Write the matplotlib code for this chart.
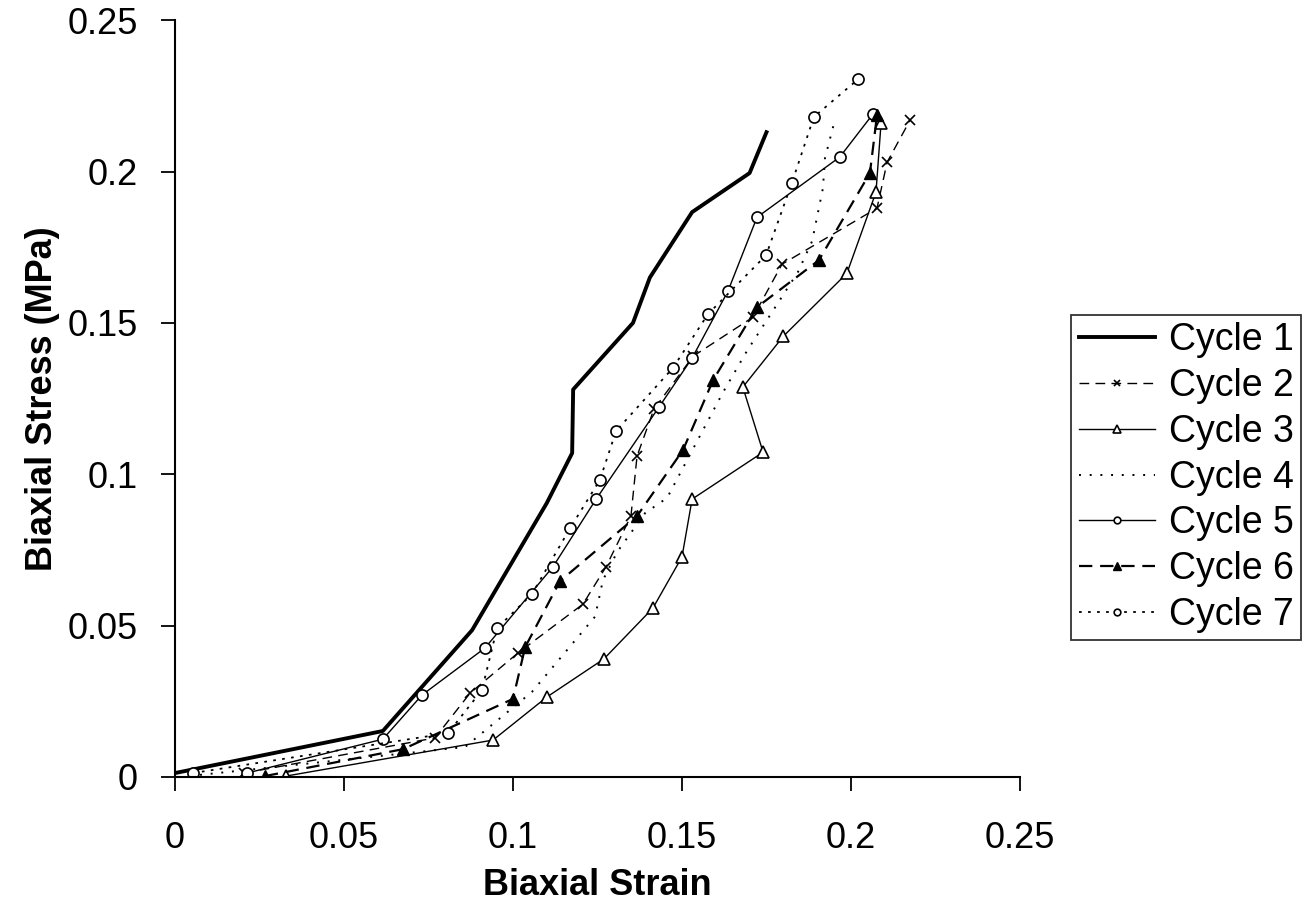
import matplotlib
matplotlib.use("Agg")
import matplotlib.pyplot as plt

plt.rcParams["font.family"] = ["Liberation Sans", "DejaVu Sans"]

# ---- data (strain, stress MPa) ----
c1_x = [0.0, 0.0615, 0.0879, 0.110, 0.1175, 0.1178, 0.1355, 0.1405, 0.153, 0.170, 0.175]
c1_y = [0.0013, 0.0152, 0.0485, 0.0905, 0.107, 0.128, 0.150, 0.165, 0.1866, 0.1995, 0.213]

c2_x = [0.0204, 0.0769, 0.0873, 0.1015, 0.1207, 0.1275, 0.1349, 0.1367, 0.1417,
        0.1533, 0.171, 0.1796, 0.2077, 0.2107, 0.2175]
c2_y = [0.0013, 0.0129, 0.0277, 0.041, 0.0571, 0.0694, 0.0862, 0.106, 0.1215,
        0.139, 0.1519, 0.1694, 0.1879, 0.2031, 0.217]

c3_x = [0.0328, 0.0941, 0.110, 0.1269, 0.1414, 0.150, 0.153, 0.174, 0.168,
        0.180, 0.1988, 0.2074, 0.2089]
c3_y = [0.0003, 0.0122, 0.0264, 0.039, 0.0558, 0.0727, 0.0918, 0.1073, 0.1288,
        0.1456, 0.1664, 0.1932, 0.216]

c4_x = [0.0074, 0.0858, 0.1056, 0.1243, 0.1266, 0.1308, 0.1391, 0.1456, 0.162,
        0.1692, 0.1843, 0.1885, 0.1917, 0.1923, 0.1953]
c4_y = [0.0007, 0.0099, 0.0281, 0.053, 0.065, 0.0743, 0.0872, 0.0922, 0.1268,
        0.1407, 0.1668, 0.177, 0.1945, 0.2044, 0.2173]

c5_x = [0.0213, 0.0615, 0.0731, 0.0917, 0.1118, 0.1246, 0.1432, 0.153, 0.1636,
        0.1722, 0.1967, 0.2065]
c5_y = [0.0013, 0.0125, 0.0271, 0.0426, 0.0694, 0.0918, 0.1222, 0.1384, 0.1605,
        0.1849, 0.2048, 0.219]

c6_x = [0.0266, 0.0675, 0.100, 0.1036, 0.1139, 0.1367, 0.1503, 0.1592, 0.1722,
        0.1905, 0.2056, 0.2077]
c6_y = [0.0003, 0.0092, 0.0258, 0.0429, 0.0647, 0.0862, 0.108, 0.1311, 0.1552,
        0.1707, 0.1995, 0.2186]

c7_x = [0.0053, 0.0808, 0.0908, 0.0953, 0.1056, 0.1169, 0.1257, 0.1305, 0.1473,
        0.1577, 0.1749, 0.1825, 0.189, 0.2021]
c7_y = [0.0013, 0.0145, 0.0287, 0.0492, 0.0604, 0.0822, 0.0981, 0.1143, 0.1351,
        0.1529, 0.1724, 0.1962, 0.218, 0.2305]

ticks = [0, 0.05, 0.1, 0.15, 0.2, 0.25]
tick_labels = ["0", "0.05", "0.1", "0.15", "0.2", "0.25"]

fig = plt.figure(figsize=(13.1, 9.18), dpi=100)
ax = fig.add_axes([0.1336, 0.1536, 0.645, 0.8244])

k = "black"
ax.plot(c1_x, c1_y, color=k, lw=2.8, label="Cycle 1")
ax.plot(c2_x, c2_y, color=k, lw=1.0, ls=(0, (7, 4.5)), marker="x", ms=7, mew=1.2,
        label="Cycle 2")
ax.plot(c3_x, c3_y, color=k, lw=1.0, marker="^", ms=9, mfc="white", mew=1.2,
        label="Cycle 3")
ax.plot(c4_x, c4_y, color=k, lw=1.4, ls=(0, (1, 4.5)), label="Cycle 4")
ax.plot(c5_x, c5_y, color=k, lw=1.0, marker="o", ms=8, mfc="white", mew=1.2,
        label="Cycle 5")
ax.plot(c6_x, c6_y, color=k, lw=1.6, ls=(0, (6, 3.5)), marker="^", ms=9,
        label="Cycle 6")
ax.plot(c7_x, c7_y, color=k, lw=1.3, ls=(0, (1.5, 3.5)), marker="o", ms=8,
        mfc="white", mew=1.2, label="Cycle 7")

ax.set_xlim(0, 0.25)
ax.set_ylim(0, 0.25)
ax.set_xticks(ticks, tick_labels)
ax.set_yticks(ticks, tick_labels)
for s in ["top", "right"]:
    ax.spines[s].set_visible(False)
for s in ["left", "bottom"]:
    ax.spines[s].set_linewidth(1.5)
ax.tick_params(direction="out", length=10, width=1.3, labelsize=26)
ax.tick_params(axis="x", pad=22)
ax.tick_params(axis="y", pad=17)
ax.set_xlabel("Biaxial Strain", fontsize=26, fontweight="bold", labelpad=8)
ax.set_ylabel("Biaxial Stress (MPa)", fontsize=26, fontweight="bold", labelpad=5)

leg = fig.legend(loc="upper left", bbox_to_anchor=(0.8176, 0.6569), fontsize=27,
                 frameon=True, fancybox=False, edgecolor="black", handlelength=2.05,
                 borderpad=0.2, labelspacing=0.26, handletextpad=0.35,
                 borderaxespad=0, markerscale=0.6)
leg.get_frame().set_linewidth(1.3)

fig.savefig("out.png", dpi=100, facecolor="white")
